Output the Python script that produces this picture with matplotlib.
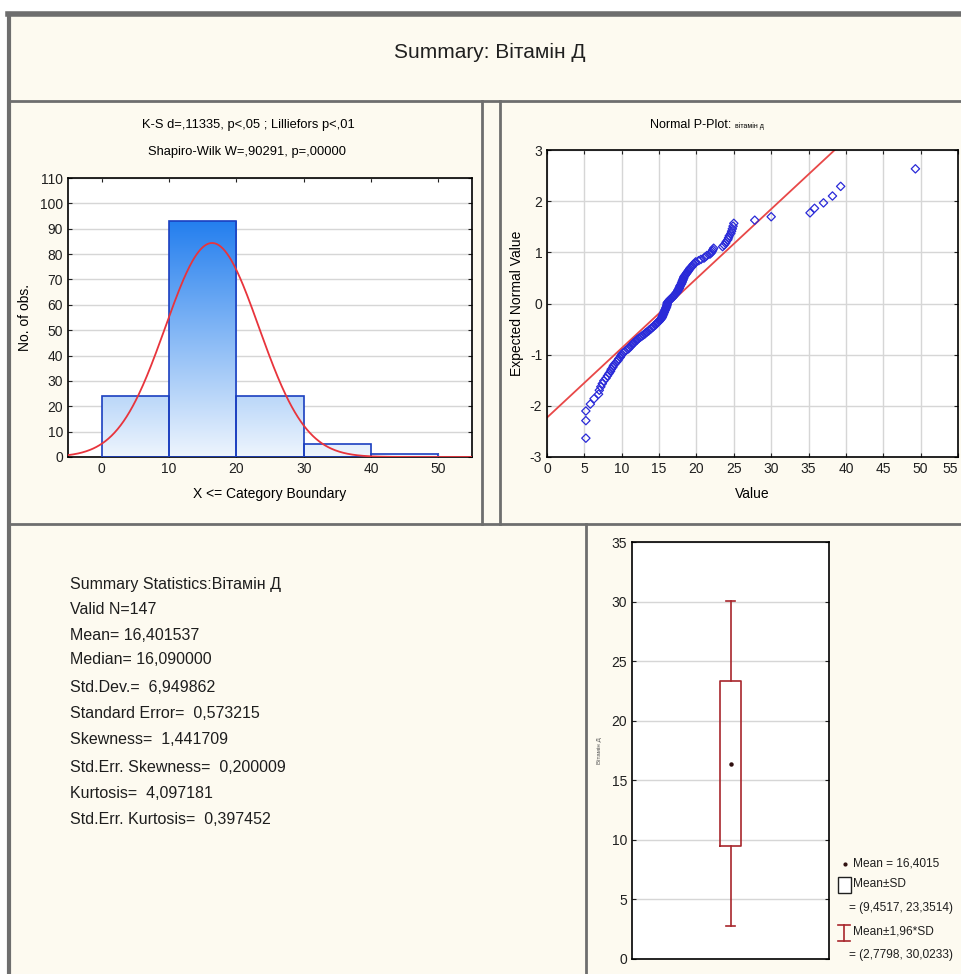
import numpy as np
import matplotlib
matplotlib.use("Agg")
import matplotlib.pyplot as plt
from matplotlib.colors import LinearSegmentedColormap
from matplotlib.lines import Line2D
from matplotlib.patches import Rectangle
from statistics import NormalDist

plt.rcParams["font.family"] = ["Liberation Sans", "DejaVu Sans"]
plt.rcParams["axes.unicode_minus"] = False

# --------------------------------
# DATA
# --------------------------------

var_name = "Вітамін Д"
n_obs = 147
mean_val = 16.401537
sd_val = 6.949862

# histogram (X <= category boundary)
bin_edges = [0, 10, 20, 30, 40, 50]
bin_counts = [24, 93, 24, 5, 1]

# sorted observations read from the normal P-plot
values = [
    5.2, 5.2, 5.2, 5.8, 6.3,
    6.9, 7.0, 7.2, 7.4, 7.6,
    7.9, 8.1, 8.3, 8.5, 8.6, 8.8,
    8.9, 9.1, 9.3, 9.5, 9.6, 9.8, 9.9, 10.0,
    10.2, 10.4, 10.6, 10.9, 11.0, 11.2,
    11.3, 11.5, 11.6, 11.8, 12.0, 12.1, 12.3, 12.5, 12.7, 12.9,
    13.1, 13.2, 13.4, 13.6, 13.7, 13.9, 14.0, 14.2, 14.3, 14.5,
    14.6, 14.7, 14.8, 15.0, 15.1, 15.2, 15.3, 15.4, 15.4, 15.5,
    15.5, 15.6, 15.6, 15.7, 15.7, 15.8, 15.8, 15.9, 15.9, 16.0, 16.0, 16.05, 16.08,
    16.09,
    16.1, 16.2, 16.3, 16.4, 16.5, 16.7, 16.8, 16.9, 17.0, 17.1, 17.2,
    17.3, 17.4, 17.5, 17.5, 17.6, 17.7, 17.7, 17.8, 17.8, 17.9,
    18.0, 18.0, 18.1, 18.1, 18.2, 18.2, 18.3, 18.3, 18.4, 18.5,
    18.6, 18.7, 18.8, 18.9, 19.0, 19.1, 19.2,
    19.4, 19.5, 19.6, 19.8, 19.9,
    20.3, 20.6, 21.0, 21.2, 21.4, 21.8, 22.0,
    22.1, 22.2, 22.3, 23.5, 23.7,
    23.9, 24.0, 24.2, 24.3, 24.4,
    24.6, 24.7, 24.8, 24.9, 25.0,
    27.8, 30.0, 35.2, 35.8, 37.0, 38.2, 39.3, 49.3,
]

# reference line of the P-plot
line_x = [0, 38.5]
line_y = [-2.23, 3.0]

# box plot: mean, mean±SD, mean±1.96*SD
box_mean = 16.4015
box_sd = [9.4517, 23.3514]
box_196 = [2.7798, 30.0233]

stat_lines = [
    "Summary Statistics:" + var_name,
    "Valid N=147",
    "Mean= 16,401537",
    "Median= 16,090000",
    "Std.Dev.=  6,949862",
    "Standard Error=  0,573215",
    "Skewness=  1,441709",
    "Std.Err. Skewness=  0,200009",
    "Kurtosis=  4,097181",
    "Std.Err. Kurtosis=  0,397452",
]

legend_lines = [
    "Mean = 16,4015",
    "Mean±SD",
    "= (9,4517, 23,3514)",
    "Mean±1,96*SD",
    "= (2,7798, 30,0233)",
]

# --------------------------------
# FIGURE / PANELS
# --------------------------------

W, H = 962, 974
cream = "#fdfaf0"
frame = "#6e6e6e"


def fx(x):
    return x / W


def fy(y):
    return 1 - y / H


fig = plt.figure(figsize=(W / 100, H / 100), dpi=100, facecolor=cream)

# white margin top / left
fig.add_artist(Rectangle((0, fy(13)), 1, 1 - fy(13), transform=fig.transFigure,
                         facecolor="white", edgecolor="none"))
fig.add_artist(Rectangle((0, 0), fx(8), 1, transform=fig.transFigure,
                         facecolor="white", edgecolor="none"))

panel_lines = [
    ([8, 962], [14, 14], 4),
    ([9, 9], [14, 974], 3),
    ([9, 962], [101, 101], 2),
    ([482, 482], [101, 524], 2),
    ([500, 500], [101, 524], 2),
    ([9, 962], [524, 524], 2),
    ([586, 586], [524, 974], 2),
]
for xs, ys, lw in panel_lines:
    fig.add_artist(Line2D([fx(v) for v in xs], [fy(v) for v in ys],
                          transform=fig.transFigure, color=frame, linewidth=lw))

fig.text(fx(490), fy(52), "Summary: " + var_name, ha="center", va="center",
         fontsize=15, color="#202020")

grid_c = "#d6d6d6"
tick_c = "#202020"

# --------------------------------
# HISTOGRAM
# --------------------------------

ax1 = fig.add_axes([fx(68), fy(457), fx(472) - fx(68), fy(178) - fy(457)])
ax1.set_facecolor("white")

cmap = LinearSegmentedColormap.from_list("bars", ["#eef5fd", "#1f7cee"])
grad = np.linspace(0, 1, 256).reshape(-1, 1)
for i, c in enumerate(bin_counts):
    x0, x1 = bin_edges[i], bin_edges[i + 1]
    ax1.imshow(grad[: max(2, int(256 * c / 95))], extent=[x0, x1, 0, c],
               origin="lower", cmap=cmap, vmin=0, vmax=1, aspect="auto", zorder=2)
ax1.bar(bin_edges[:-1], bin_counts, width=10, align="edge", fill=False,
        edgecolor="#1b3fc0", linewidth=1.2, zorder=3)

curve_x = np.linspace(-5, 55, 400)
curve_y = [n_obs * 10 * NormalDist(mean_val, sd_val).pdf(v) for v in curve_x]
ax1.plot(curve_x, curve_y, color="#e8343c", linewidth=1.3, zorder=4)

ax1.set_xlim(-5, 55)
ax1.set_ylim(0, 110)
ax1.set_xticks(range(0, 51, 10))
ax1.set_yticks(range(0, 111, 10))
ax1.yaxis.grid(True, color=grid_c, linewidth=1)
ax1.set_axisbelow(True)
ax1.tick_params(labelsize=10, direction="in", length=3, top=True, right=True,
                colors=tick_c)
ax1.set_ylabel("No. of obs.", fontsize=10, labelpad=6)
ax1.set_xlabel("X <= Category Boundary", fontsize=10, labelpad=8)
for s in ax1.spines.values():
    s.set_linewidth(1.2)
fig.text(fx(248), fy(125), "K-S d=,11335, p<,05 ; Lilliefors p<,01",
         ha="center", va="center", fontsize=9.3)
fig.text(fx(247), fy(152), "Shapiro-Wilk W=,90291, p=,00000",
         ha="center", va="center", fontsize=9.3)

# --------------------------------
# NORMAL P-PLOT
# --------------------------------

ax2 = fig.add_axes([fx(547), fy(457), fx(958) - fx(547), fy(150) - fy(457)])
ax2.set_facecolor("white")

ranks = np.arange(1, len(values) + 1)
expected = [NormalDist().inv_cdf((r - 0.375) / (len(values) + 0.25)) for r in ranks]

ax2.plot(line_x, line_y, color="#e84848", linewidth=1.3, zorder=2)
ax2.scatter(values, expected, marker="D", s=18, facecolors="none",
            edgecolors="#2a2ad8", linewidths=0.9, zorder=3)
ax2.set_xlim(0, 55)
ax2.set_ylim(-3, 3)
ax2.set_xticks(range(0, 56, 5))
ax2.set_yticks(range(-3, 4))
ax2.grid(True, color=grid_c, linewidth=1)
ax2.set_axisbelow(True)
ax2.tick_params(labelsize=10, direction="in", length=3, top=True, right=True,
                colors=tick_c)
ax2.get_xticklabels()[-1].set_horizontalalignment("right")
ax2.set_xlabel("Value", fontsize=10, labelpad=8)
ax2.set_ylabel("Expected Normal Value", fontsize=10, labelpad=4)
for s in ax2.spines.values():
    s.set_linewidth(1.2)
fig.text(fx(735), fy(125), "Normal P-Plot: ", ha="right", va="center", fontsize=9)
fig.text(fx(735), fy(126), "вітамін д", ha="left", va="center", fontsize=5)

# --------------------------------
# SUMMARY TEXT
# --------------------------------

stat_y = [585, 610, 635, 660, 687, 713, 740, 767, 793, 820]
for yy, txt in zip(stat_y, stat_lines):
    fig.text(fx(70), fy(yy), txt, ha="left", va="center", fontsize=11.5,
             color="#1e1e1e")

# --------------------------------
# BOX PLOT
# --------------------------------

ax3 = fig.add_axes([fx(632), fy(959), fx(829) - fx(632), fy(542) - fy(959)])
ax3.set_facecolor("white")
box_c = "#a8262c"
stats = [dict(med=box_mean, q1=box_sd[0], q3=box_sd[1], whislo=box_196[0],
              whishi=box_196[1], mean=box_mean, fliers=[])]
ax3.bxp(stats, positions=[0.5], widths=0.11, capwidths=0.05, showmeans=True,
        boxprops=dict(color=box_c, linewidth=1.2),
        whiskerprops=dict(color=box_c, linewidth=1.2),
        capprops=dict(color=box_c, linewidth=1.2),
        medianprops=dict(linewidth=0),
        meanprops=dict(marker="o", markersize=2.2, markerfacecolor="#301010",
                       markeredgecolor="#301010"))
ax3.set_xlim(0, 1)
ax3.set_ylim(0, 35)
ax3.set_xticks([])
ax3.set_yticks(range(0, 36, 5))
ax3.yaxis.grid(True, color=grid_c, linewidth=1)
ax3.set_axisbelow(True)
ax3.tick_params(labelsize=10, direction="in", length=3, right=True, colors=tick_c)
ax3.set_ylabel(var_name, fontsize=4.5, labelpad=7, color="#555555")
for s in ax3.spines.values():
    s.set_linewidth(1.2)

# legend beside the box plot
fig.add_artist(Line2D([fx(845)], [fy(864)], transform=fig.transFigure, marker="o",
                      markersize=2, color="#301010", linestyle="none"))
fig.add_artist(Rectangle((fx(838), fy(893)), fx(851) - fx(838), fy(877) - fy(893),
                         transform=fig.transFigure, facecolor="white",
                         edgecolor="#202020", linewidth=1))
for xs, ys in [([844, 844], [925, 941]), ([838, 850], [925, 925]), ([838, 850], [941, 941])]:
    fig.add_artist(Line2D([fx(v) for v in xs], [fy(v) for v in ys],
                          transform=fig.transFigure, color=box_c, linewidth=1.2))
legend_pos = [(853, 863), (853, 884), (849, 908), (853, 932), (849, 955)]
for (lx, ly), txt in zip(legend_pos, legend_lines):
    fig.text(fx(lx), fy(ly), txt, ha="left", va="center", fontsize=8.6,
             color="#1e1e1e")

fig.savefig("out.png", dpi=100, facecolor=fig.get_facecolor())
